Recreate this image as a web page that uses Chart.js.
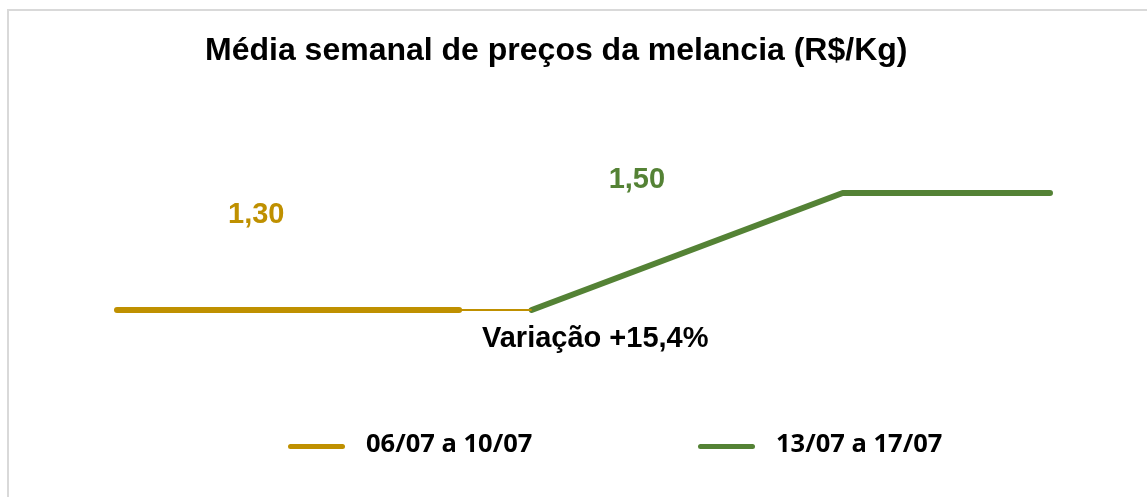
<!DOCTYPE html>
<html>
<head>
<meta charset="utf-8">
<script src="https://cdn.jsdelivr.net/npm/chart.js@4"></script>
<style>
  html, body { margin: 0; padding: 0; background: #fff; }
  #wrap { position: relative; width: 1147px; height: 497px; overflow: hidden; }
  #frame { position: absolute; left: 7px; top: 9px; width: 1200px; height: 560px;
           border-left: 2px solid #d9d9d9; border-top: 2px solid #d9d9d9; }
  canvas { position: absolute; left: 0; top: 0; }
  .txt { position: absolute; font-family: "Liberation Sans", Arial, sans-serif; font-weight: bold; color: #000; white-space: nowrap; }
  #title { left: 205px; top: 31px; font-size: 32px; }
  #variacao { left: 482px; top: 321px; font-size: 29px; }
  .leg { position: absolute; top: 427px; height: 30px; }
  .leg .line { position: absolute; top: 17px; width: 57px; height: 5px; border-radius: 3px; }
  .leg .lab { position: absolute; left: 78px; top: 0; font-family: "Open Sans", sans-serif; font-weight: bold; font-size: 25.5px; line-height: 30px; white-space: nowrap; }
</style>
</head>
<body>
<div id="wrap">
  <div id="frame"></div>
  <canvas id="chart" width="1147" height="497"></canvas>
  <div id="title" class="txt">Média semanal de preços da melancia (R$/Kg)</div>
  <div id="variacao" class="txt">Variação +15,4%</div>
  <div id="legend"></div>
</div>
<script>
// dados do gráfico
const seriesNames = ["06/07 a 10/07", "13/07 a 17/07"];
const seriesColors = ["#bf9000", "#548235"];
const semana1X = [0, 3.3, 4];
const semana1Y = [1.30, 1.30, 1.30];
const semana2X = [4, 7, 9];
const semana2Y = [1.30, 1.50, 1.50];
const rotulos = ["1,30", "1,50"];

function pontos(xs, ys) {
    return xs.map((x, i) => ({ x: x, y: ys[i] }));
}

// rótulos de dados (posição deslocada como no original)
const rotulosPlugin = {
    id: 'rotulos',
    afterDatasetsDraw(chart) {
        const ctx = chart.ctx;
        const xs = chart.scales.x, ys = chart.scales.y;
        ctx.save();
        ctx.font = 'bold 29px "Liberation Sans", Arial, sans-serif';
        ctx.textBaseline = 'alphabetic';
        ctx.textAlign = 'left';
        // 1,30
        ctx.fillStyle = seriesColors[0];
        ctx.fillText(rotulos[0], xs.getPixelForValue(semana1X[0]) + 111, ys.getPixelForValue(semana1Y[0]) - 87);
        // 1,50
        ctx.fillStyle = seriesColors[1];
        ctx.fillText(rotulos[1], xs.getPixelForValue(semana2X[1]) - 234, ys.getPixelForValue(semana2Y[1]) - 5);
        ctx.restore();
    }
};

const ctx = document.getElementById('chart').getContext('2d');
const chart = new Chart(ctx, {
    type: 'line',
    data: {
        datasets: [
            {
                label: seriesNames[0],
                data: pontos(semana1X, semana1Y),
                borderColor: seriesColors[0],
                borderWidth: 6,
                borderCapStyle: 'round',
                pointRadius: 0,
                clip: false,
                segment: {
                    borderWidth: c => c.p0DataIndex === 1 ? 2 : 6,
                    borderCapStyle: c => c.p0DataIndex === 1 ? 'butt' : 'round'
                }
            },
            {
                label: seriesNames[1],
                data: pontos(semana2X, semana2Y),
                borderColor: seriesColors[1],
                borderWidth: 6,
                borderCapStyle: 'round',
                borderJoinStyle: 'round',
                pointRadius: 0,
                clip: false
            }
        ]
    },
    options: {
        responsive: false,
        animation: false,
        layout: { padding: { left: 117, right: 97, top: 76, bottom: 70 } },
        scales: {
            x: { type: 'linear', min: 0, max: 9, display: false },
            y: { min: 1.1, max: 1.7, display: false }
        },
        plugins: {
            legend: { display: false },
            title: { display: false },
            tooltip: { enabled: false }
        }
    },
    plugins: [rotulosPlugin]
});

// legenda em html
const legendLeft = [288, 698];
const legend = document.getElementById('legend');
seriesNames.forEach((nome, i) => {
    const item = document.createElement('div');
    item.className = 'leg';
    item.style.left = legendLeft[i] + 'px';
    item.innerHTML = '<div class="line" style="background:' + seriesColors[i] + '"></div>' +
        '<div class="lab">' + nome + '</div>';
    legend.appendChild(item);
});
</script>
</body>
</html>
